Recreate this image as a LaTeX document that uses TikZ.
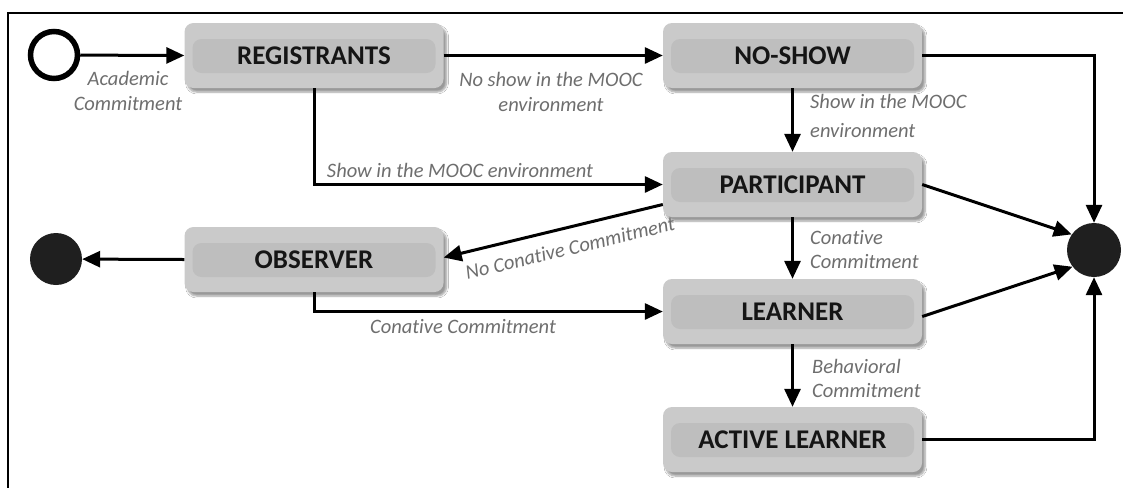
\documentclass[tikz,border=0pt]{standalone}
\usepackage{fontspec}
\setmainfont[Ligatures=NoCommon]{Carlito}
\usetikzlibrary{arrows.meta,shadows.blur}
\definecolor{boxfill}{HTML}{CACACA}
\definecolor{bandfill}{HTML}{BEBEBE}
\definecolor{boxtext}{HTML}{151515}
\definecolor{labeltext}{HTML}{6E6E6E}
\tikzset{
  statebox/.style={rounded corners=9pt, fill=boxfill, minimum width=259pt, minimum height=65pt,
    inner sep=0pt, text=boxtext, font=\fontsize{27}{30}\selectfont\bfseries,
    blur shadow={shadow xshift=3pt, shadow yshift=-4pt, shadow blur steps=6, shadow opacity=40},
    path picture={\fill[bandfill] ([xshift=8pt,yshift=-16pt]path picture bounding box.north west)
      rectangle ([xshift=-8pt,yshift=15pt]path picture bounding box.south east);}},
  startstate/.style={circle, draw=black, line width=5.5pt, minimum size=47pt, inner sep=0pt},
  endstate/.style={circle, fill=black!88, minimum size=#1, inner sep=0pt},
  trans/.style={line width=3pt, -{Triangle[length=18pt,width=16pt]}},
  lbl/.style={text=labeltext, font=\fontsize{20.5}{24.5}\selectfont\itshape, inner sep=0pt},
  frameline/.style={line width=2.5pt}
}
\begin{document}
\begin{tikzpicture}[x=1pt,y=-1pt]
\useasboundingbox (0,0) rectangle (1123,488);
\fill[white] (0,0) rectangle (1123,488);
\coordinate (ftr) at (1123,13);
\coordinate (ftl) at (8,13);
\coordinate (fbl) at (8,488);
\draw[frameline] (ftr) -- (ftl) -- (fbl);

\node[startstate] (start) at (54,55) {};
\node[endstate=52pt] (endL) at (56,259) {};
\node[endstate=54pt] (endR) at (1094,250) {};

\node[statebox] (reg) at (314,55.5) {REGISTRANTS};
\node[statebox] (noshow) at (792.5,55.5) {NO-SHOW};
\node[statebox] (part) at (792.5,184.5) {PARTICIPANT};
\node[statebox] (obs) at (314,259.5) {OBSERVER};
\node[statebox] (learn) at (792.5,311.5) {LEARNER};
\node[statebox] (active) at (792.5,439.5) {ACTIVE LEARNER};

\draw[trans] (start) -- (reg.west);
\draw[trans] (reg.east) -- (noshow.west);
\draw[trans] (reg.south) |- (part.west);
\draw[trans] (noshow.south) -- (part.north);
\draw[trans] ([yshift=-20pt]part.west) -- ([yshift=2pt]obs.east);
\draw[trans] (obs.west) -- (endL);
\draw[trans] (obs.south) |- (learn.west);
\draw[trans] (part.south) -- (learn.north);
\draw[trans] (learn.south) -- (active.north);
\draw[trans] (noshow.east) -| (endR.north);
\draw[trans] (part.east) -- (endR.145);
\draw[trans] ([yshift=-5pt]learn.east) -- (endR.218);
\draw[trans] (active.east) -| (endR.south);

\node[lbl, align=center] (l1) at (128,91) {Academic\\Commitment};
\node[lbl, align=center] (l2) at (551,92) {No show in the MOOC\\environment};
\node[lbl] (l3) at (460,170.5) {Show in the MOOC environment};
\node[lbl, align=left, anchor=west] (l4) at (810,116) {Show in the MOOC\\[5pt]environment};
\node[lbl, align=left, anchor=west] (l5) at (810,249.5) {Conative\\Commitment};
\node[lbl, align=left, anchor=west] (l6) at (812,378.5) {Behavioral\\Commitment};
\node[lbl, rotate=13.5] (l7) at (570,248) {No Conative Commitment};
\node[lbl] (l8) at (463,327) {Conative Commitment};
\end{tikzpicture}
\end{document}
